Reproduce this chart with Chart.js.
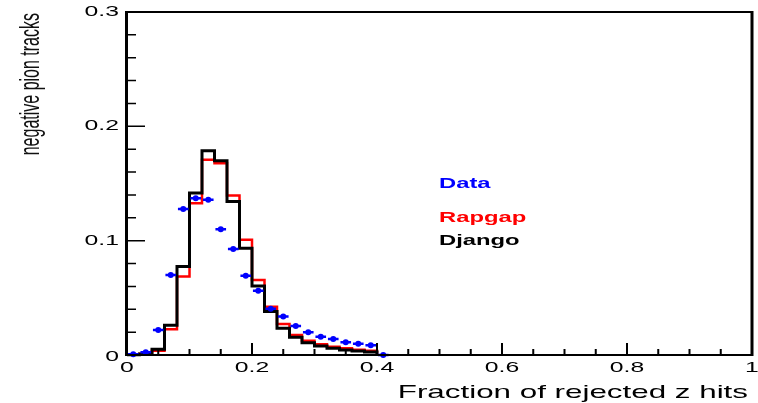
<!DOCTYPE html>
<html>
<head>
<meta charset="utf-8">
<script src="https://cdn.jsdelivr.net/npm/chart.js@4.4.1/dist/chart.umd.min.js"></script>
<style>
  html, body { margin: 0; padding: 0; background: #ffffff; }
  canvas { display: block; }
</style>
</head>
<body>
<canvas id="c" width="758" height="403"></canvas>
<script>
// ---- data ----
const binEdges = [0.00, 0.02, 0.04, 0.06, 0.08, 0.10, 0.12, 0.14, 0.16, 0.18, 0.20,
                  0.22, 0.24, 0.26, 0.28, 0.30, 0.32, 0.34, 0.36, 0.38, 0.40];
const djangoValues = [0.0003, 0.0008, 0.0050, 0.0260, 0.0773, 0.1416, 0.1786, 0.1699, 0.1343, 0.0934,
                      0.0604, 0.0380, 0.0234, 0.0155, 0.0108, 0.0079, 0.0058, 0.0044, 0.0035, 0.0026];
const rapgapValues = [0.0002, 0.0012, 0.0038, 0.0225, 0.0686, 0.1328, 0.1707, 0.1678, 0.1395, 0.1007,
                      0.0657, 0.0423, 0.0271, 0.0175, 0.0125, 0.0093, 0.0073, 0.0058, 0.0047, 0.0038];
const dataX = [0.01, 0.03, 0.05, 0.07, 0.09, 0.11, 0.13, 0.15, 0.17, 0.19, 0.21,
               0.23, 0.25, 0.27, 0.29, 0.31, 0.33, 0.35, 0.37, 0.39, 0.41];
const dataValues = [0.0006, 0.0024, 0.0219, 0.0700, 0.1278, 0.1372, 0.1357, 0.1100, 0.0928, 0.0694, 0.0563,
                    0.0405, 0.0336, 0.0254, 0.0199, 0.0160, 0.0140, 0.0111, 0.0099, 0.0085, 0.0000];
const dataXErr = 0.0085;
const seriesNames = ['Data', 'Django', 'Rapgap'];
const xTitle = 'Fraction of rejected z hits';
const yTitle = 'negative pion tracks';
const xTickLabels = ['0', '0.2', '0.4', '0.6', '0.8', '1'];
const yTickLabels = ['0', '0.1', '0.2', '0.3'];
const xTickStep = 0.2, yTickStep = 0.1;

function histPoints(vals) {
  const pts = vals.map((v, i) => ({ x: binEdges[i], y: v }));
  pts.push({ x: binEdges[vals.length], y: 0 });
  return pts;
}

const FONT = "'Liberation Sans', Arial, Helvetica, sans-serif";
const SX = 1.65; // horizontal stretch of the lettering, as in the reference

function stretchedText(ctx, text, x, y, align, sx, font, color) {
  ctx.save();
  ctx.font = font;
  ctx.fillStyle = color;
  ctx.textAlign = align;
  ctx.textBaseline = 'middle';
  ctx.translate(x, y);
  ctx.scale(sx, 1);
  ctx.fillText(text, 0, 0);
  ctx.restore();
}

const decorPlugin = {
  id: 'decor',
  beforeDatasetDraw(chart, args) {
    if (args.index !== 0) return;
    const ctx = chart.ctx, xs = chart.scales.x, ys = chart.scales.y;
    ctx.save();
    ctx.strokeStyle = '#0000ff';
    ctx.lineWidth = 2.5;
    ctx.beginPath();
    dataX.forEach((xv, i) => {
      const py = ys.getPixelForValue(dataValues[i]);
      ctx.moveTo(xs.getPixelForValue(xv - dataXErr), py);
      ctx.lineTo(xs.getPixelForValue(xv + dataXErr), py);
    });
    ctx.stroke();
    ctx.restore();
  },
  afterDraw(chart) {
    const ctx = chart.ctx, xs = chart.scales.x, ys = chart.scales.y;
    const a = chart.chartArea;
    ctx.save();
    ctx.strokeStyle = '#000';
    // frame
    ctx.lineWidth = 2;
    ctx.beginPath();
    ctx.moveTo(a.left, a.top); ctx.lineTo(a.right, a.top);
    ctx.moveTo(a.left, a.bottom); ctx.lineTo(a.right, a.bottom);
    ctx.stroke();
    ctx.lineWidth = 3;
    ctx.beginPath();
    ctx.moveTo(a.left - 0.5, a.top - 1); ctx.lineTo(a.left - 0.5, a.bottom + 1);
    ctx.moveTo(a.right, a.top - 1); ctx.lineTo(a.right, a.bottom + 1);
    ctx.stroke();
    // x tick marks (inside)
    ctx.lineWidth = 2;
    ctx.beginPath();
    for (let k = 0; k <= 20; k++) {
      const px = xs.getPixelForValue(k * 0.05);
      const len = (k % 4 === 0) ? 12 : 6;
      ctx.moveTo(px, a.bottom); ctx.lineTo(px, a.bottom - len);
    }
    ctx.stroke();
    // y tick marks (inside)
    ctx.lineWidth = 1.5;
    ctx.beginPath();
    for (let k = 0; k <= 15; k++) {
      const py = ys.getPixelForValue(k * 0.02);
      const len = (k % 5 === 0) ? 18 : 9;
      ctx.moveTo(a.left, py); ctx.lineTo(a.left + len, py);
    }
    ctx.stroke();
    ctx.restore();

    // tick labels from the library's own ticks
    const tickFont = '15px ' + FONT;
    xs.ticks.forEach(t => {
      stretchedText(ctx, t.label, xs.getPixelForValue(t.value), 368, 'center', SX, tickFont, '#000');
    });
    ys.ticks.forEach(t => {
      const py = ys.getPixelForValue(t.value) + (t.value === 0 ? 2 : 0);
      stretchedText(ctx, t.label, 119, py, 'right', SX, tickFont, '#000');
    });

    // x title
    stretchedText(ctx, xTitle, 748, 393, 'right', SX, '19px ' + FONT, '#000');

    // y title (rotated; lettering stretched across the text direction)
    ctx.save();
    ctx.font = '16px ' + FONT;
    ctx.fillStyle = '#111';
    ctx.textAlign = 'right';
    ctx.textBaseline = 'middle';
    ctx.translate(31, a.top + 1);
    ctx.rotate(-Math.PI / 2);
    ctx.scale(1, 1.75);
    ctx.fillText(yTitle, 0, 0);
    ctx.restore();

    // legend text
    const legendFont = 'bold 14px ' + FONT;
    const ds = chart.data.datasets;
    stretchedText(ctx, ds[0].label, 439, 184, 'left', 1.7, legendFont, '#0000ff');
    stretchedText(ctx, ds[2].label, 439, 218, 'left', 1.7, legendFont, '#ff0000');
    stretchedText(ctx, ds[1].label, 439, 241, 'left', 1.7, legendFont, '#000000');
  }
};

new Chart(document.getElementById('c'), {
  type: 'line',
  data: {
    datasets: [
      {
        type: 'scatter',
        label: seriesNames[0],
        data: dataX.map((x, i) => ({ x: x, y: dataValues[i] })),
        backgroundColor: '#0000ff',
        borderColor: '#0000ff',
        pointRadius: 3,
        pointBorderWidth: 0,
        showLine: false,
        clip: false
      },
      {
        label: seriesNames[1],
        data: histPoints(djangoValues),
        borderColor: '#000000',
        borderWidth: 3,
        stepped: 'before',
        pointRadius: 0,
        fill: false,
        clip: false
      },
      {
        label: seriesNames[2],
        data: histPoints(rapgapValues),
        borderColor: '#ff0000',
        borderWidth: 2.5,
        stepped: 'before',
        pointRadius: 0,
        fill: false,
        clip: false
      }
    ]
  },
  options: {
    responsive: false,
    animation: false,
    devicePixelRatio: 1,
    layout: { padding: { top: 12, right: 6, left: 0, bottom: 0 } },
    plugins: { legend: { display: false }, tooltip: { enabled: false } },
    scales: {
      x: {
        type: 'linear', position: 'bottom', min: 0, max: 1,
        ticks: { stepSize: xTickStep, display: false, autoSkip: false,
                 callback: (v, i) => xTickLabels[i] },
        grid: { display: false, drawTicks: false },
        border: { display: false },
        title: { display: false, text: xTitle },
        afterFit(s) { s.height = 48; s.paddingLeft = 0; s.paddingRight = 0; }
      },
      y: {
        type: 'linear', position: 'left', min: 0, max: 0.3,
        ticks: { stepSize: yTickStep, display: false,
                 callback: (v, i) => yTickLabels[i] },
        grid: { display: false, drawTicks: false },
        border: { display: false },
        title: { display: false, text: yTitle },
        afterFit(s) { s.width = 127; s.paddingTop = 0; s.paddingBottom = 0; }
      }
    }
  },
  plugins: [decorPlugin]
});
</script>
</body>
</html>
